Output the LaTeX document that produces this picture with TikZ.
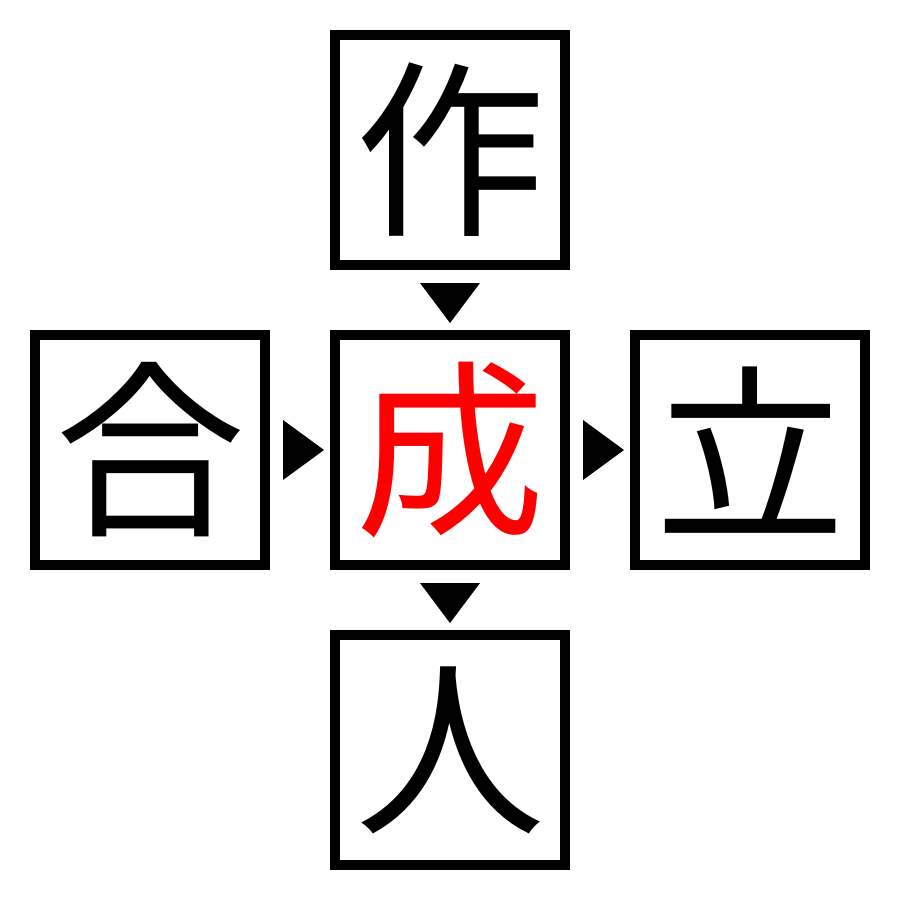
\documentclass[tikz,border=0pt]{standalone}
\usepackage{fontspec}
\newfontfamily\cjk{Noto Sans CJK JP}
\begin{document}
\begin{tikzpicture}[x=1pt,y=-1pt,
  charbox/.style={draw=black,line width=10pt,minimum size=230pt,inner sep=0pt,font=\cjk\fontsize{190}{190}\selectfont,text=black},
  tri/.style={fill=black,draw=none}]
\useasboundingbox (0,0) rectangle (900,900);
\node[charbox] (top) at (450,150) {作};
\node[charbox] (left) at (150,450) {合};
\node[charbox,text=red] (mid) at (450,450) {成};
\node[charbox] (right) at (750,450) {立};
\node[charbox] (bot) at (450,750) {人};
\fill[tri] (420,283) -- (480,283) -- (450,323) -- cycle;
\fill[tri] (420,583) -- (480,583) -- (450,623) -- cycle;
\fill[tri] (283,420) -- (283,480) -- (324,450) -- cycle;
\fill[tri] (583,420) -- (583,480) -- (624,450) -- cycle;
\end{tikzpicture}
\end{document}
